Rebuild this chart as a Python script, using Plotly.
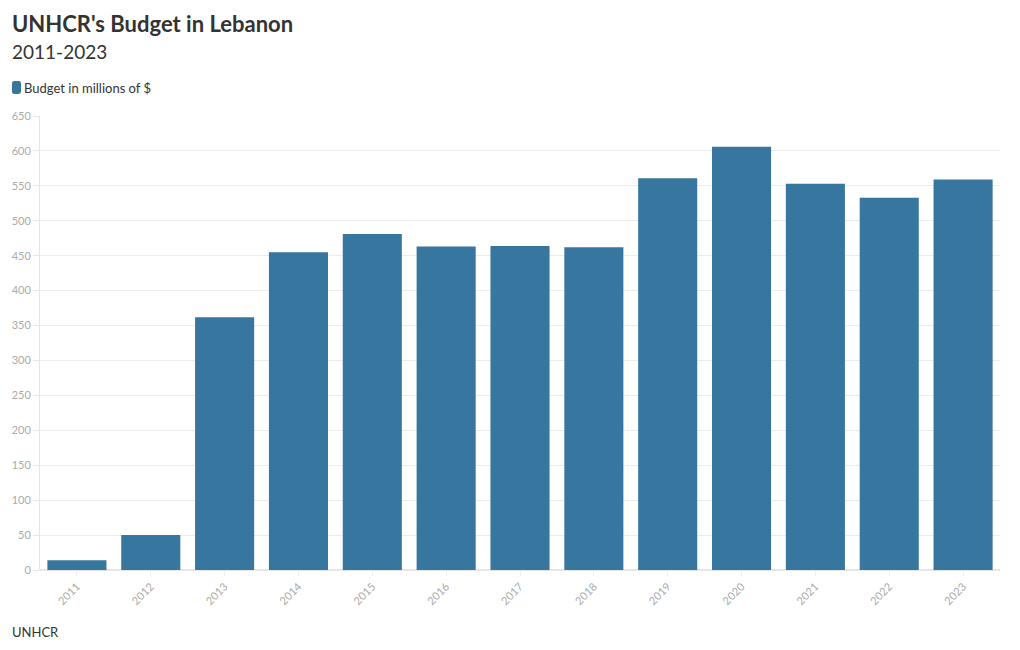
import plotly.graph_objects as go

years = ['2011', '2012', '2013', '2014', '2015', '2016', '2017',
         '2018', '2019', '2020', '2021', '2022', '2023']
budget = [14, 50, 362, 455, 481, 463, 464, 462, 561, 606, 553, 533, 559]

bar_color = 'rgb(55,118,159)'
font_name = 'Lato'

W, H = 1020, 650
ml, mr, mt, mb = 40, 20, 116, 80
pw = W - ml - mr
ph = H - mt - mb

# pixel -> paper coords
def px_x(x):
    return (x - ml) / pw

def px_y(y):
    return (H - mb - y) / ph

# rounded legend swatch, built in pixels then mapped to paper
def rounded_rect(x0, y0, x1, y1, r):
    pts = [
        ('M', x0 + r, y0), ('L', x1 - r, y0), ('Q', x1, y0, x1, y0 + r),
        ('L', x1, y1 - r), ('Q', x1, y1, x1 - r, y1), ('L', x0 + r, y1),
        ('Q', x0, y1, x0, y1 - r), ('L', x0, y0 + r), ('Q', x0, y0, x0 + r, y0),
    ]
    out = ''
    for p in pts:
        cmd, coords = p[0], p[1:]
        xy = []
        for i in range(0, len(coords), 2):
            xy.append('{:.5f},{:.5f}'.format(px_x(coords[i]), px_y(coords[i + 1])))
        out += cmd + ' '.join(xy) + ' '
    return out + 'Z'

fig = go.Figure()
fig.add_trace(go.Bar(
    x=years, y=budget,
    name='Budget in millions of $',
    marker=dict(color=bar_color, line=dict(width=0)),
    showlegend=False,
))

fig.update_layout(
    width=W, height=H,
    margin=dict(l=ml, r=mr, t=mt, b=mb, autoexpand=False),
    paper_bgcolor='white', plot_bgcolor='white',
    font=dict(family=font_name, color='#333'),
    bargap=0.2,
    xaxis=dict(
        tickangle=-45, tickfont=dict(size=11, color='#aaa'),
        showgrid=False, showline=False, ticks='outside', ticklen=5,
        tickcolor='#eee',
    ),
    yaxis=dict(
        range=[0, 650], dtick=50, tickfont=dict(size=11, color='#aaa'),
        gridcolor='#ececec', gridwidth=1, zeroline=True, zerolinecolor='#e6e6e6',
        showline=True, linecolor='#e6e6e6', ticks='outside', ticklen=6,
        tickcolor='#e6e6e6',
    ),
    shapes=[
        dict(type='path', xref='paper', yref='paper',
             path=rounded_rect(12, 81, 21, 94, 2.5),
             fillcolor=bar_color, line=dict(width=0)),
    ],
    annotations=[
        dict(text="<b>UNHCR's Budget in Lebanon</b>", xref='paper', yref='paper',
             x=px_x(10), y=px_y(24), xanchor='left', yanchor='middle',
             showarrow=False, font=dict(size=22, color='#333')),
        dict(text='2011-2023', xref='paper', yref='paper',
             x=px_x(10), y=px_y(51), xanchor='left', yanchor='middle',
             showarrow=False, font=dict(size=19, color='#333')),
        dict(text='Budget in millions of $', xref='paper', yref='paper',
             x=px_x(22), y=px_y(88), xanchor='left', yanchor='middle',
             showarrow=False, font=dict(size=13, color='#333')),
        dict(text='UNHCR', xref='paper', yref='paper',
             x=px_x(10), y=px_y(632), xanchor='left', yanchor='middle',
             showarrow=False, font=dict(size=13, color='#333')),
    ],
)

fig.write_html('out.html', config={'displayModeBar': False},
               post_script="document.body.style.margin='0';")
